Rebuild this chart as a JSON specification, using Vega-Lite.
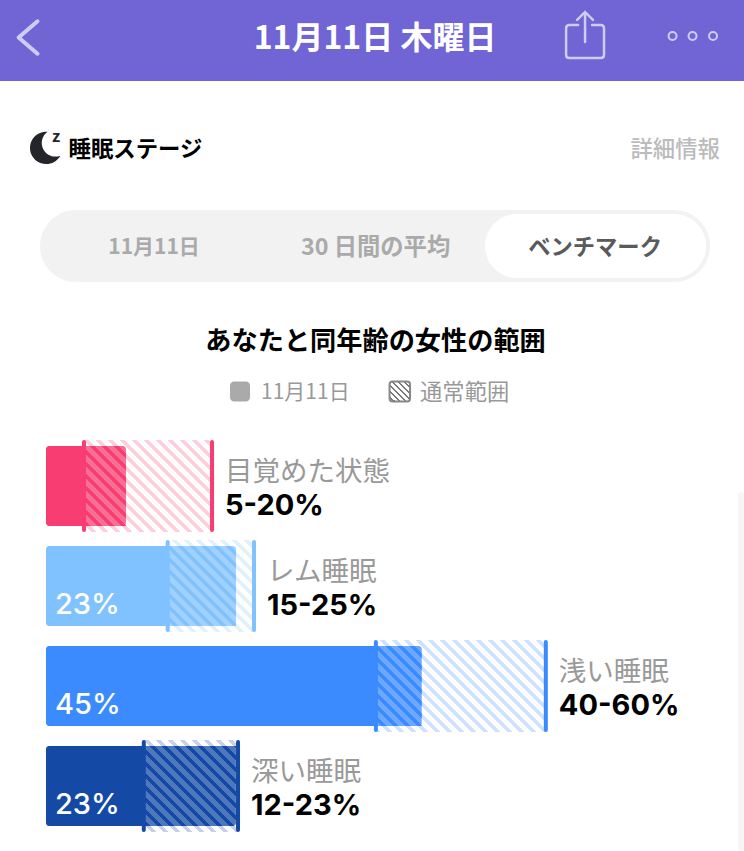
{"$schema":"https://vega.github.io/schema/vega-lite/v6.json","width":744,"height":851,"padding":0,"autosize":{"type":"fit","contains":"padding"},"background":"#ffffff","config":{"view":{"stroke":null},"text":{"font":"Noto Sans CJK JP"}},
"data":{"values":[
{"stage":"目覚めた状態","row":3,"start":0,"value":9.6,"low":4.56,"high":19.93,"range":"5-20%","pct":""},
{"stage":"レム睡眠","row":2,"start":0,"value":22.8,"low":14.61,"high":24.97,"range":"15-25%","pct":"23%"},
{"stage":"浅い睡眠","row":1,"start":0,"value":45.1,"low":39.6,"high":60,"range":"40-60%","pct":"45%"},
{"stage":"深い睡眠","row":0,"start":0,"value":22.8,"low":11.74,"high":23.05,"range":"12-23%","pct":"23%"}]},
"transform":[{"calculate":"datum.row+0.46","as":"bandTop"},{"calculate":"datum.row-0.46","as":"bandBottom"},{"calculate":"datum.row+0.4","as":"barTop"},{"calculate":"datum.row-0.4","as":"barBottom"},{"calculate":"datum.row+0.44","as":"tickTop"},{"calculate":"datum.row-0.44","as":"tickBottom"}],
"layer":[
{"mark":{"type":"rect","fill":"#7164D4"},"data":{"values":[{"x":-5.522,"x2":83.79,"y":7.86,"y2":7.05}]},"encoding":{"x":{"field":"x","type":"quantitative","axis":null,"scale":{"domain":[-5.522,83.79],"nice":false,"zero":false}},"x2":{"field":"x2"},"y":{"field":"y","type":"quantitative","axis":null,"scale":{"domain":[-0.65,7.86],"nice":false,"zero":false}},"y2":{"field":"y2"}}},
{"mark":{"type":"rect","cornerRadius":36,"fill":"#f2f2f2"},"data":{"values":[{"x":-0.72,"x2":79.71,"y":5.76,"y2":5.04}]},"encoding":{"x":{"field":"x","type":"quantitative","axis":null},"x2":{"field":"x2"},"y":{"field":"y","type":"quantitative","axis":null},"y2":{"field":"y2"}}},
{"mark":{"type":"rect","cornerRadius":32,"fill":"#ffffff"},"data":{"values":[{"x":52.7,"x2":79.23,"y":5.72,"y2":5.08}]},"encoding":{"x":{"field":"x","type":"quantitative","axis":null},"x2":{"field":"x2"},"y":{"field":"y","type":"quantitative","axis":null},"y2":{"field":"y2"}}},
{"mark":{"type":"rect","cornerRadius":3,"fill":"#f5f5f5"},"data":{"values":[{"x":83.07,"x2":83.79,"y":2.94,"y2":-0.65}]},"encoding":{"x":{"field":"x","type":"quantitative","axis":null},"x2":{"field":"x2"},"y":{"field":"y","type":"quantitative","axis":null},"y2":{"field":"y2"}}},
{"mark":{"type":"rect","opacity":0.25},"encoding":{"x":{"field":"low","type":"quantitative","axis":null},"x2":{"field":"high"},"y":{"field":"bandTop","type":"quantitative","axis":null},"y2":{"field":"bandBottom"},"color":{"field":"stage","type":"nominal","legend":null,"scale":{"domain":["目覚めた状態","レム睡眠","浅い睡眠","深い睡眠"],"range":["#F73D71","#80C2FF","#3B8BFF","#1449A6"]}}}},
{"mark":{"type":"rect"},"encoding":{"x":{"field":"low","type":"quantitative","axis":null},"x2":{"field":"value"},"y":{"field":"barTop","type":"quantitative","axis":null},"y2":{"field":"barBottom"},"color":{"field":"stage","type":"nominal","legend":null}}},
{"mark":{"type":"rect","fill":{"x1":0,"y1":1,"x2":1.10769,"y2":0.13846,"gradient":"linear","stops":[
{"offset":0,"color":"#fff"},{"offset":0.0073,"color":"#fff"},{"offset":0.0073,"color":"#fff0"},{"offset":0.0125,"color":"#fff0"},
{"offset":0.0125,"color":"#fff"},{"offset":0.0198,"color":"#fff"},{"offset":0.0198,"color":"#fff0"},{"offset":0.025,"color":"#fff0"},
{"offset":0.025,"color":"#fff"},{"offset":0.0323,"color":"#fff"},{"offset":0.0323,"color":"#fff0"},{"offset":0.0375,"color":"#fff0"},
{"offset":0.0375,"color":"#fff"},{"offset":0.0448,"color":"#fff"},{"offset":0.0448,"color":"#fff0"},{"offset":0.05,"color":"#fff0"},
{"offset":0.05,"color":"#fff"},{"offset":0.0573,"color":"#fff"},{"offset":0.0573,"color":"#fff0"},{"offset":0.0625,"color":"#fff0"},
{"offset":0.0625,"color":"#fff"},{"offset":0.0698,"color":"#fff"},{"offset":0.0698,"color":"#fff0"},{"offset":0.075,"color":"#fff0"},
{"offset":0.075,"color":"#fff"},{"offset":0.0823,"color":"#fff"},{"offset":0.0823,"color":"#fff0"},{"offset":0.0875,"color":"#fff0"},
{"offset":0.0875,"color":"#fff"},{"offset":0.0948,"color":"#fff"},{"offset":0.0948,"color":"#fff0"},{"offset":0.1,"color":"#fff0"},
{"offset":0.1,"color":"#fff"},{"offset":0.1073,"color":"#fff"},{"offset":0.1073,"color":"#fff0"},{"offset":0.1125,"color":"#fff0"},
{"offset":0.1125,"color":"#fff"},{"offset":0.1198,"color":"#fff"},{"offset":0.1198,"color":"#fff0"},{"offset":0.125,"color":"#fff0"},
{"offset":0.125,"color":"#fff"},{"offset":0.1323,"color":"#fff"},{"offset":0.1323,"color":"#fff0"},{"offset":0.1375,"color":"#fff0"},
{"offset":0.1375,"color":"#fff"},{"offset":0.1448,"color":"#fff"},{"offset":0.1448,"color":"#fff0"},{"offset":0.15,"color":"#fff0"},
{"offset":0.15,"color":"#fff"},{"offset":0.1573,"color":"#fff"},{"offset":0.1573,"color":"#fff0"},{"offset":0.1625,"color":"#fff0"},
{"offset":0.1625,"color":"#fff"},{"offset":0.1698,"color":"#fff"},{"offset":0.1698,"color":"#fff0"},{"offset":0.175,"color":"#fff0"},
{"offset":0.175,"color":"#fff"},{"offset":0.1823,"color":"#fff"},{"offset":0.1823,"color":"#fff0"},{"offset":0.1875,"color":"#fff0"},
{"offset":0.1875,"color":"#fff"},{"offset":0.1948,"color":"#fff"},{"offset":0.1948,"color":"#fff0"},{"offset":0.2,"color":"#fff0"},
{"offset":0.2,"color":"#fff"},{"offset":0.2073,"color":"#fff"},{"offset":0.2073,"color":"#fff0"},{"offset":0.2125,"color":"#fff0"},
{"offset":0.2125,"color":"#fff"},{"offset":0.2198,"color":"#fff"},{"offset":0.2198,"color":"#fff0"},{"offset":0.225,"color":"#fff0"},
{"offset":0.225,"color":"#fff"},{"offset":0.2323,"color":"#fff"},{"offset":0.2323,"color":"#fff0"},{"offset":0.2375,"color":"#fff0"},
{"offset":0.2375,"color":"#fff"},{"offset":0.2448,"color":"#fff"},{"offset":0.2448,"color":"#fff0"},{"offset":0.25,"color":"#fff0"},
{"offset":0.25,"color":"#fff"},{"offset":0.2573,"color":"#fff"},{"offset":0.2573,"color":"#fff0"},{"offset":0.2625,"color":"#fff0"},
{"offset":0.2625,"color":"#fff"},{"offset":0.2698,"color":"#fff"},{"offset":0.2698,"color":"#fff0"},{"offset":0.275,"color":"#fff0"},
{"offset":0.275,"color":"#fff"},{"offset":0.2823,"color":"#fff"},{"offset":0.2823,"color":"#fff0"},{"offset":0.2875,"color":"#fff0"},
{"offset":0.2875,"color":"#fff"},{"offset":0.2948,"color":"#fff"},{"offset":0.2948,"color":"#fff0"},{"offset":0.3,"color":"#fff0"},
{"offset":0.3,"color":"#fff"},{"offset":0.3073,"color":"#fff"},{"offset":0.3073,"color":"#fff0"},{"offset":0.3125,"color":"#fff0"},
{"offset":0.3125,"color":"#fff"},{"offset":0.3198,"color":"#fff"},{"offset":0.3198,"color":"#fff0"},{"offset":0.325,"color":"#fff0"},
{"offset":0.325,"color":"#fff"},{"offset":0.3323,"color":"#fff"},{"offset":0.3323,"color":"#fff0"},{"offset":0.3375,"color":"#fff0"},
{"offset":0.3375,"color":"#fff"},{"offset":0.3448,"color":"#fff"},{"offset":0.3448,"color":"#fff0"},{"offset":0.35,"color":"#fff0"},
{"offset":0.35,"color":"#fff"},{"offset":0.3573,"color":"#fff"},{"offset":0.3573,"color":"#fff0"},{"offset":0.3625,"color":"#fff0"},
{"offset":0.3625,"color":"#fff"},{"offset":0.3698,"color":"#fff"},{"offset":0.3698,"color":"#fff0"},{"offset":0.375,"color":"#fff0"},
{"offset":0.375,"color":"#fff"},{"offset":0.3823,"color":"#fff"},{"offset":0.3823,"color":"#fff0"},{"offset":0.3875,"color":"#fff0"},
{"offset":0.3875,"color":"#fff"},{"offset":0.3948,"color":"#fff"},{"offset":0.3948,"color":"#fff0"},{"offset":0.4,"color":"#fff0"},
{"offset":0.4,"color":"#fff"},{"offset":0.4073,"color":"#fff"},{"offset":0.4073,"color":"#fff0"},{"offset":0.4125,"color":"#fff0"},
{"offset":0.4125,"color":"#fff"},{"offset":0.4198,"color":"#fff"},{"offset":0.4198,"color":"#fff0"},{"offset":0.425,"color":"#fff0"},
{"offset":0.425,"color":"#fff"},{"offset":0.4323,"color":"#fff"},{"offset":0.4323,"color":"#fff0"},{"offset":0.4375,"color":"#fff0"},
{"offset":0.4375,"color":"#fff"},{"offset":0.4448,"color":"#fff"},{"offset":0.4448,"color":"#fff0"},{"offset":0.45,"color":"#fff0"},
{"offset":0.45,"color":"#fff"},{"offset":0.4573,"color":"#fff"},{"offset":0.4573,"color":"#fff0"},{"offset":0.4625,"color":"#fff0"},
{"offset":0.4625,"color":"#fff"},{"offset":0.4698,"color":"#fff"},{"offset":0.4698,"color":"#fff0"},{"offset":0.475,"color":"#fff0"},
{"offset":0.475,"color":"#fff"},{"offset":0.4823,"color":"#fff"},{"offset":0.4823,"color":"#fff0"},{"offset":0.4875,"color":"#fff0"},
{"offset":0.4875,"color":"#fff"},{"offset":0.4948,"color":"#fff"},{"offset":0.4948,"color":"#fff0"},{"offset":0.5,"color":"#fff0"},
{"offset":0.5,"color":"#fff"},{"offset":0.5073,"color":"#fff"},{"offset":0.5073,"color":"#fff0"},{"offset":0.5125,"color":"#fff0"},
{"offset":0.5125,"color":"#fff"},{"offset":0.5198,"color":"#fff"},{"offset":0.5198,"color":"#fff0"},{"offset":0.525,"color":"#fff0"},
{"offset":0.525,"color":"#fff"},{"offset":0.5323,"color":"#fff"},{"offset":0.5323,"color":"#fff0"},{"offset":0.5375,"color":"#fff0"},
{"offset":0.5375,"color":"#fff"},{"offset":0.5448,"color":"#fff"},{"offset":0.5448,"color":"#fff0"},{"offset":0.55,"color":"#fff0"},
{"offset":0.55,"color":"#fff"},{"offset":0.5573,"color":"#fff"},{"offset":0.5573,"color":"#fff0"},{"offset":0.5625,"color":"#fff0"},
{"offset":0.5625,"color":"#fff"},{"offset":0.5698,"color":"#fff"},{"offset":0.5698,"color":"#fff0"},{"offset":0.575,"color":"#fff0"},
{"offset":0.575,"color":"#fff"},{"offset":0.5823,"color":"#fff"},{"offset":0.5823,"color":"#fff0"},{"offset":0.5875,"color":"#fff0"},
{"offset":0.5875,"color":"#fff"},{"offset":0.5948,"color":"#fff"},{"offset":0.5948,"color":"#fff0"},{"offset":0.6,"color":"#fff0"},
{"offset":0.6,"color":"#fff"},{"offset":0.6073,"color":"#fff"},{"offset":0.6073,"color":"#fff0"},{"offset":0.6125,"color":"#fff0"},
{"offset":0.6125,"color":"#fff"},{"offset":0.6198,"color":"#fff"},{"offset":0.6198,"color":"#fff0"},{"offset":0.625,"color":"#fff0"},
{"offset":0.625,"color":"#fff"},{"offset":0.6323,"color":"#fff"},{"offset":0.6323,"color":"#fff0"},{"offset":0.6375,"color":"#fff0"},
{"offset":0.6375,"color":"#fff"},{"offset":0.6448,"color":"#fff"},{"offset":0.6448,"color":"#fff0"},{"offset":0.65,"color":"#fff0"},
{"offset":0.65,"color":"#fff"},{"offset":0.6573,"color":"#fff"},{"offset":0.6573,"color":"#fff0"},{"offset":0.6625,"color":"#fff0"},
{"offset":0.6625,"color":"#fff"},{"offset":0.6698,"color":"#fff"},{"offset":0.6698,"color":"#fff0"},{"offset":0.675,"color":"#fff0"},
{"offset":0.675,"color":"#fff"},{"offset":0.6823,"color":"#fff"},{"offset":0.6823,"color":"#fff0"},{"offset":0.6875,"color":"#fff0"},
{"offset":0.6875,"color":"#fff"},{"offset":0.6948,"color":"#fff"},{"offset":0.6948,"color":"#fff0"},{"offset":0.7,"color":"#fff0"},
{"offset":0.7,"color":"#fff"},{"offset":0.7073,"color":"#fff"},{"offset":0.7073,"color":"#fff0"},{"offset":0.7125,"color":"#fff0"},
{"offset":0.7125,"color":"#fff"},{"offset":0.7198,"color":"#fff"},{"offset":0.7198,"color":"#fff0"},{"offset":0.725,"color":"#fff0"},
{"offset":0.725,"color":"#fff"},{"offset":0.7323,"color":"#fff"},{"offset":0.7323,"color":"#fff0"},{"offset":0.7375,"color":"#fff0"},
{"offset":0.7375,"color":"#fff"},{"offset":0.7448,"color":"#fff"},{"offset":0.7448,"color":"#fff0"},{"offset":0.75,"color":"#fff0"},
{"offset":0.75,"color":"#fff"},{"offset":0.7573,"color":"#fff"},{"offset":0.7573,"color":"#fff0"},{"offset":0.7625,"color":"#fff0"},
{"offset":0.7625,"color":"#fff"},{"offset":0.7698,"color":"#fff"},{"offset":0.7698,"color":"#fff0"},{"offset":0.775,"color":"#fff0"},
{"offset":0.775,"color":"#fff"},{"offset":0.7823,"color":"#fff"},{"offset":0.7823,"color":"#fff0"},{"offset":0.7875,"color":"#fff0"},
{"offset":0.7875,"color":"#fff"},{"offset":0.7948,"color":"#fff"},{"offset":0.7948,"color":"#fff0"},{"offset":0.8,"color":"#fff0"},
{"offset":0.8,"color":"#fff"},{"offset":0.8073,"color":"#fff"},{"offset":0.8073,"color":"#fff0"},{"offset":0.8125,"color":"#fff0"},
{"offset":0.8125,"color":"#fff"},{"offset":0.8198,"color":"#fff"},{"offset":0.8198,"color":"#fff0"},{"offset":0.825,"color":"#fff0"},
{"offset":0.825,"color":"#fff"},{"offset":0.8323,"color":"#fff"},{"offset":0.8323,"color":"#fff0"},{"offset":0.8375,"color":"#fff0"},
{"offset":0.8375,"color":"#fff"},{"offset":0.8448,"color":"#fff"},{"offset":0.8448,"color":"#fff0"},{"offset":0.85,"color":"#fff0"},
{"offset":0.85,"color":"#fff"},{"offset":0.8573,"color":"#fff"},{"offset":0.8573,"color":"#fff0"},{"offset":0.8625,"color":"#fff0"},
{"offset":0.8625,"color":"#fff"},{"offset":0.8698,"color":"#fff"},{"offset":0.8698,"color":"#fff0"},{"offset":0.875,"color":"#fff0"},
{"offset":0.875,"color":"#fff"},{"offset":0.8823,"color":"#fff"},{"offset":0.8823,"color":"#fff0"},{"offset":0.8875,"color":"#fff0"},
{"offset":0.8875,"color":"#fff"},{"offset":0.8948,"color":"#fff"},{"offset":0.8948,"color":"#fff0"},{"offset":0.9,"color":"#fff0"},
{"offset":0.9,"color":"#fff"},{"offset":0.9073,"color":"#fff"},{"offset":0.9073,"color":"#fff0"},{"offset":0.9125,"color":"#fff0"},
{"offset":0.9125,"color":"#fff"},{"offset":0.9198,"color":"#fff"},{"offset":0.9198,"color":"#fff0"},{"offset":0.925,"color":"#fff0"},
{"offset":0.925,"color":"#fff"},{"offset":0.9323,"color":"#fff"},{"offset":0.9323,"color":"#fff0"},{"offset":0.9375,"color":"#fff0"},
{"offset":0.9375,"color":"#fff"},{"offset":0.9448,"color":"#fff"},{"offset":0.9448,"color":"#fff0"},{"offset":0.95,"color":"#fff0"},
{"offset":0.95,"color":"#fff"},{"offset":0.9573,"color":"#fff"},{"offset":0.9573,"color":"#fff0"},{"offset":0.9625,"color":"#fff0"},
{"offset":0.9625,"color":"#fff"},{"offset":1,"color":"#fff"}]}},"data":{"values":[{"x":-1.2,"x2":63.63,"y":3.62,"y2":-0.58}]},"encoding":{"x":{"field":"x","type":"quantitative","axis":null},"x2":{"field":"x2"},"y":{"field":"y","type":"quantitative","axis":null},"y2":{"field":"y2"}}},
{"mark":{"type":"rect","opacity":0.75,"cornerRadiusTopRight":3,"cornerRadiusBottomRight":3},"encoding":{"x":{"field":"low","type":"quantitative","axis":null},"x2":{"field":"value"},"y":{"field":"barTop","type":"quantitative","axis":null},"y2":{"field":"barBottom"},"color":{"field":"stage","type":"nominal","legend":null}}},
{"mark":{"type":"rect","cornerRadiusTopLeft":3,"cornerRadiusBottomLeft":3},"encoding":{"x":{"field":"start","type":"quantitative","axis":null},"x2":{"field":"low"},"y":{"field":"barTop","type":"quantitative","axis":null},"y2":{"field":"barBottom"},"color":{"field":"stage","type":"nominal","legend":null}}},
{"mark":{"type":"rule","strokeWidth":4,"strokeCap":"round"},"encoding":{"x":{"field":"low","type":"quantitative","axis":null},"y":{"field":"tickTop","type":"quantitative","axis":null},"y2":{"field":"tickBottom"},"color":{"field":"stage","type":"nominal","legend":null}}},
{"mark":{"type":"rule","strokeWidth":4,"strokeCap":"round"},"encoding":{"x":{"field":"high","type":"quantitative","axis":null},"y":{"field":"tickTop","type":"quantitative","axis":null},"y2":{"field":"tickBottom"},"color":{"field":"stage","type":"nominal","legend":null}}},
{"mark":{"type":"text","align":"left","baseline":"middle","dx":13,"dy":-13,"fontSize":27.5,"fill":"#999999"},"encoding":{"x":{"field":"high","type":"quantitative","axis":null},"y":{"field":"row","type":"quantitative","axis":null},"text":{"field":"stage","type":"nominal"}}},
{"mark":{"type":"text","font":"Inter","align":"left","baseline":"middle","dx":13,"dy":19.5,"fontSize":29,"fontWeight":"bold","fill":"#000000"},"encoding":{"x":{"field":"high","type":"quantitative","axis":null},"y":{"field":"row","type":"quantitative","axis":null},"text":{"field":"range","type":"nominal"}}},
{"mark":{"type":"text","font":"Inter","align":"left","baseline":"middle","dx":9,"dy":18.5,"fontSize":29,"fontWeight":500,"fill":"#ffffff"},"encoding":{"x":{"field":"start","type":"quantitative","axis":null},"y":{"field":"row","type":"quantitative","axis":null},"text":{"field":"pct","type":"nominal"}}},
{"mark":{"type":"point","shape":"M.5,-.9L-.55,0L.5,.9","size":1296,"filled":false,"opacity":1,"stroke":"#D0CCF1","strokeWidth":4,"strokeCap":"round","strokeJoin":"round"},"data":{"values":[{"x":-2.1,"y":7.485}]},"encoding":{"x":{"field":"x","type":"quantitative","axis":null},"y":{"field":"y","type":"quantitative","axis":null}}},
{"mark":{"type":"point","shape":"M0,-.96L0,.29M-.33,-.63L0,-.96L.33,-.63M-.29,-.42L-.65,-.42Q-.79,-.42 -.79,-.28L-.79,.82Q-.79,.96 -.65,.96L.65,.96Q.79,.96 .79,.82L.79,-.28Q.79,-.42 .65,-.42L.29,-.42","size":2304,"filled":false,"opacity":1,"stroke":"#D0CCF1","strokeWidth":2.5,"strokeCap":"round"},"data":{"values":[{"x":64.71,"y":7.51}]},"encoding":{"x":{"field":"x","type":"quantitative","axis":null},"y":{"field":"y","type":"quantitative","axis":null}}},
{"mark":{"type":"point","shape":"circle","size":64,"filled":false,"opacity":1,"stroke":"#D0CCF1","strokeWidth":2},"data":{"values":[{"x":75.21,"y":7.5},{"x":77.61,"y":7.5},{"x":80.07,"y":7.5}]},"encoding":{"x":{"field":"x","type":"quantitative","axis":null},"y":{"field":"y","type":"quantitative","axis":null}}},
{"mark":{"type":"point","shape":"M.15,-.95A.95,.95 0 1 0 .9,.45A.8,.8 0 0 1 .15,-.95Z","size":1156,"filled":true,"opacity":1,"fill":"#22262B"},"data":{"values":[{"x":-0.12,"y":6.38}]},"encoding":{"x":{"field":"x","type":"quantitative","axis":null},"y":{"field":"y","type":"quantitative","axis":null}}},
{"mark":{"type":"text","fontSize":16,"fontWeight":"bold","fill":"#22262B"},"data":{"values":[{"t":"z","x":1.2,"y":6.49}]},"encoding":{"x":{"field":"x","type":"quantitative","axis":null},"y":{"field":"y","type":"quantitative","axis":null},"text":{"field":"t","type":"nominal"}}},
{"mark":{"type":"text","fontSize":32,"fontWeight":"bold","fill":"#ffffff","baseline":"middle"},"data":{"values":[{"t":"11月11日 木曜日","x":39.5,"y":7.47}]},"encoding":{"x":{"field":"x","type":"quantitative","axis":null},"y":{"field":"y","type":"quantitative","axis":null},"text":{"field":"t","type":"nominal"}}},
{"mark":{"type":"text","align":"left","fontSize":22.4,"fontWeight":"bold","fill":"#000000","baseline":"middle"},"data":{"values":[{"t":"睡眠ステージ","x":2.7,"y":6.36}]},"encoding":{"x":{"field":"x","type":"quantitative","axis":null},"y":{"field":"y","type":"quantitative","axis":null},"text":{"field":"t","type":"nominal"}}},
{"mark":{"type":"text","align":"right","fontSize":22.4,"fontWeight":500,"fill":"#BBBBBB","baseline":"middle"},"data":{"values":[{"t":"詳細情報","x":80.91,"y":6.36}]},"encoding":{"x":{"field":"x","type":"quantitative","axis":null},"y":{"field":"y","type":"quantitative","axis":null},"text":{"field":"t","type":"nominal"}}},
{"mark":{"type":"text","fontSize":21,"fontWeight":"bold","fill":"#AAAAAA","baseline":"middle"},"data":{"values":[{"t":"11月11日","x":12.97,"y":5.385}]},"encoding":{"x":{"field":"x","type":"quantitative","axis":null},"y":{"field":"y","type":"quantitative","axis":null},"text":{"field":"t","type":"nominal"}}},
{"mark":{"type":"text","fontSize":23.3,"fontWeight":"bold","fill":"#AAAAAA","baseline":"middle"},"data":{"values":[{"t":"30 日間の平均","x":39.56,"y":5.385}]},"encoding":{"x":{"field":"x","type":"quantitative","axis":null},"y":{"field":"y","type":"quantitative","axis":null},"text":{"field":"t","type":"nominal"}}},
{"mark":{"type":"text","fontSize":22.3,"fontWeight":"bold","fill":"#5A5A5A","baseline":"middle"},"data":{"values":[{"t":"ベンチマーク","x":65.91,"y":5.385}]},"encoding":{"x":{"field":"x","type":"quantitative","axis":null},"y":{"field":"y","type":"quantitative","axis":null},"text":{"field":"t","type":"nominal"}}},
{"mark":{"type":"text","fontSize":26.2,"fontWeight":"bold","fill":"#000000","baseline":"middle"},"data":{"values":[{"t":"あなたと同年齢の女性の範囲","x":39.56,"y":4.44}]},"encoding":{"x":{"field":"x","type":"quantitative","axis":null},"y":{"field":"y","type":"quantitative","axis":null},"text":{"field":"t","type":"nominal"}}},
{"mark":{"type":"rect","cornerRadius":4,"fill":"#AAAAAA"},"data":{"values":[{"x":22.09,"x2":24.49,"y":4.045,"y2":3.845}]},"encoding":{"x":{"field":"x","type":"quantitative","axis":null},"x2":{"field":"x2"},"y":{"field":"y","type":"quantitative","axis":null},"y2":{"field":"y2"}}},
{"mark":{"type":"rect","cornerRadius":3,"stroke":"#888888","strokeWidth":2,"fill":{"x1":0,"y1":1,"x2":1,"y2":0,"gradient":"linear","stops":[{"offset":0,"color":"#fff"},{"offset":0.09,"color":"#fff"},{"offset":0.09,"color":"#777"},{"offset":0.146,"color":"#777"},{"offset":0.146,"color":"#fff"},{"offset":0.236,"color":"#fff"},{"offset":0.236,"color":"#777"},{"offset":0.292,"color":"#777"},{"offset":0.292,"color":"#fff"},{"offset":0.382,"color":"#fff"},{"offset":0.382,"color":"#777"},{"offset":0.438,"color":"#777"},{"offset":0.438,"color":"#fff"},{"offset":0.528,"color":"#fff"},{"offset":0.528,"color":"#777"},{"offset":0.584,"color":"#777"},{"offset":0.584,"color":"#fff"},{"offset":0.674,"color":"#fff"},{"offset":0.674,"color":"#777"},{"offset":0.73,"color":"#777"},{"offset":0.73,"color":"#fff"},{"offset":0.82,"color":"#fff"},{"offset":0.82,"color":"#777"},{"offset":0.876,"color":"#777"},{"offset":0.876,"color":"#fff"},{"offset":0.966,"color":"#fff"},{"offset":0.966,"color":"#777"},{"offset":1,"color":"#777"}]}},"data":{"values":[{"x":41.24,"x2":43.7,"y":4.045,"y2":3.845}]},"encoding":{"x":{"field":"x","type":"quantitative","axis":null},"x2":{"field":"x2"},"y":{"field":"y","type":"quantitative","axis":null},"y2":{"field":"y2"}}},
{"mark":{"type":"text","align":"left","fontSize":21,"fill":"#999999","baseline":"middle"},"data":{"values":[{"t":"11月11日","x":25.81,"y":3.93}]},"encoding":{"x":{"field":"x","type":"quantitative","axis":null},"y":{"field":"y","type":"quantitative","axis":null},"text":{"field":"t","type":"nominal"}}},
{"mark":{"type":"text","align":"left","fontSize":22.3,"fill":"#999999","baseline":"middle"},"data":{"values":[{"t":"通常範囲","x":44.9,"y":3.93}]},"encoding":{"x":{"field":"x","type":"quantitative","axis":null},"y":{"field":"y","type":"quantitative","axis":null},"text":{"field":"t","type":"nominal"}}}
]}
